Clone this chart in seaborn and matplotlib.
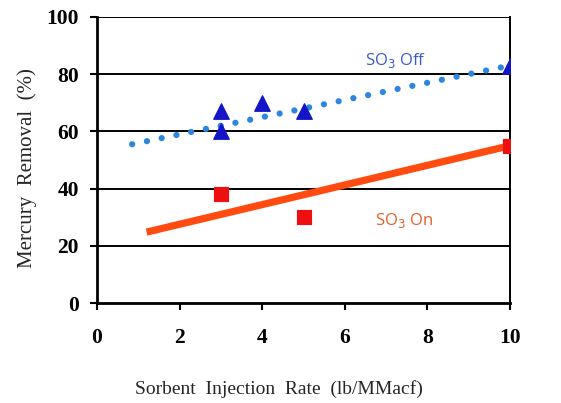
import matplotlib
matplotlib.use("Agg")
import matplotlib.pyplot as plt
import seaborn as sns
import pandas as pd

# measured points
off_x = [3, 3, 4, 5, 10]
off_y = [67, 60, 70, 67, 83]
on_x = [3, 5, 10]
on_y = [38, 30, 55]

# trend lines as drawn in the original
off_line_x = [0.85, 10]
off_line_y = [55.5, 83]
on_line_x = [1.2, 10]
on_line_y = [24.8, 55]

x_ticks = [0, 2, 4, 6, 8, 10]
y_ticks = [0, 20, 40, 60, 80, 100]

sns.set_style("white")
plt.rcParams['font.family'] = ['Liberation Serif', 'DejaVu Serif']

fig = plt.figure(figsize=(5.61, 4.03), dpi=100)
ax = fig.add_axes([0.173, 0.248, 0.736, 0.71])

for yv in y_ticks[1:]:
    ax.axhline(yv, color='black', lw=1.4, zorder=1)

sns.lineplot(x=off_line_x, y=off_line_y, ax=ax, color='#2c86e0', lw=4.5,
             linestyle=(0, (0.01, 2.4)), dash_capstyle='round', zorder=2)
sns.lineplot(x=on_line_x, y=on_line_y, ax=ax, color='#ff4a10', lw=5.2, zorder=2,
             solid_capstyle='butt')
sns.scatterplot(x=off_x, y=off_y, ax=ax, marker='^', s=125, color='#1414c8',
                edgecolor='#1414c8', zorder=3)
sns.scatterplot(x=on_x, y=on_y, ax=ax, marker='s', s=110, color='#ee1010',
                edgecolor='#ee1010', zorder=3)

ax.text(6.48, 81.3, 'SO$_3$ Off', color='#3a5cc8', fontsize=12,
        family=['Open Sans', 'DejaVu Sans'], va='bottom')
ax.text(6.72, 29, 'SO$_3$ On', color='#e0602a', fontsize=12,
        family=['Open Sans', 'DejaVu Sans'], va='center')

ax.set_xlim(0, 10)
ax.set_ylim(0, 100)
ax.set_xticks(x_ticks)
ax.set_yticks(y_ticks)
ax.set_xticklabels([str(t) for t in x_ticks], fontsize=15.5, fontweight='bold')
ax.set_yticklabels([str(t) for t in y_ticks], fontsize=15.5, fontweight='bold')
ax.tick_params(axis='x', direction='out', length=5, width=1.5, pad=13, colors='black')
ax.tick_params(axis='y', direction='out', length=5, width=1.5, pad=8, colors='black')
ax.tick_params(bottom=True, left=True)

ax.set_xlabel('Sorbent  Injection  Rate  (lb/MMacf)', fontsize=14, va='center')
ax.set_ylabel('Mercury  Removal  (%)', fontsize=15, va='center')
ax.xaxis.set_label_coords(0.44, -0.30)
ax.yaxis.set_label_coords(-0.169, 0.472)

ax.spines['left'].set_linewidth(2)
ax.spines['bottom'].set_linewidth(2)
ax.spines['right'].set_linewidth(1.4)
ax.spines['top'].set_visible(False)
for s in ax.spines.values():
    s.set_color('black')

fig.savefig('out.png', dpi=100)
